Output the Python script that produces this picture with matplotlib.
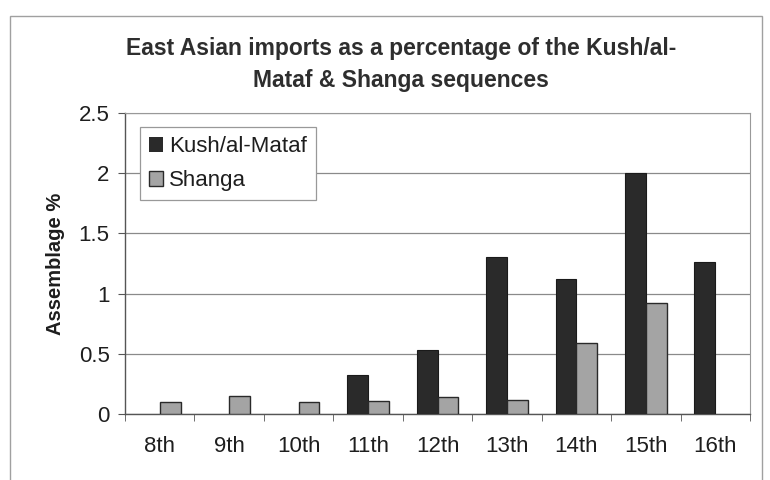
import numpy as np
import matplotlib
matplotlib.use('Agg')
import matplotlib.pyplot as plt
import matplotlib.patches as mpatches

plt.rcParams['font.family'] = ['Liberation Sans', 'DejaVu Sans']

# assemblage share of East Asian imports per century
centuries = ['8th', '9th', '10th', '11th', '12th', '13th', '14th', '15th', '16th']
kush = [0.0, 0.0, 0.0, 0.32, 0.53, 1.30, 1.12, 2.0, 1.26]
shanga = [0.10, 0.15, 0.10, 0.11, 0.14, 0.12, 0.59, 0.92, 0.0]
yticks = [0, 0.5, 1, 1.5, 2, 2.5]
yticklabels = ['0', '0.5', '1', '1.5', '2', '2.5']

colKush = '#2a2a2a'
colShanga = '#a4a4a4'
colGrid = '#8a8a8a'
colText = '#1e1e1e'
szTick = 16

fig = plt.figure(figsize=(7.7, 4.8), dpi=100)
fig.patch.set_facecolor('white')

# chart area frame
frame = mpatches.Rectangle((10/770, -0.02), 752/770, 1.02 - 16/480,
                           transform=fig.transFigure, fill=False,
                           ec='#a0a0a0', lw=1.0)
fig.patches.append(frame)

ax = fig.add_axes([125/770, 66/480, 625/770, 301/480])
x = np.arange(len(centuries))
w = 0.3
ax.bar(x - w/2, kush, w, color=colKush, ec='#1a1a1a',
       lw=[0.8 if v > 0 else 0 for v in kush],
       label='Kush/al-Mataf', zorder=3)
ax.bar(x + w/2, shanga, w, color=colShanga, ec='#2a2a2a',
       lw=[1.0 if v > 0 else 0 for v in shanga],
       label='Shanga', zorder=3)

ax.set_xlim(-0.5, len(centuries) - 0.5)
ax.set_ylim(0, 2.5)
ax.set_yticks(yticks)
ax.set_yticklabels(yticklabels, fontsize=szTick, color=colText)
ax.set_xticks(x)
ax.set_xticklabels(centuries, fontsize=szTick, color=colText)
ax.set_xticks(np.arange(len(centuries) + 1) - 0.5, minor=True)
ax.tick_params(axis='x', which='major', length=0, pad=16)
ax.tick_params(axis='x', which='minor', length=5, color='#555555', direction='out')
ax.tick_params(axis='y', which='major', length=5, color='#555555', pad=6)

ax.yaxis.grid(True, color=colGrid, lw=0.9, zorder=0)
for s in ['top', 'right']:
    ax.spines[s].set_color('#999999')
for s in ['left', 'bottom']:
    ax.spines[s].set_color('#555555')
    ax.spines[s].set_linewidth(1.0)

ax.set_ylabel('Assemblage %', fontsize=14.5, fontweight='bold', labelpad=10,
              color=colText)

leg = ax.legend(loc='upper left', bbox_to_anchor=(0.024, 0.953),
                borderaxespad=0, fancybox=False, fontsize=szTick,
                handlelength=0.65, handleheight=0.65, handletextpad=0.25,
                borderpad=0.4, labelspacing=0.6, framealpha=1)
leg.get_frame().set_edgecolor('#999999')
leg.get_frame().set_linewidth(0.9)
for t in leg.get_texts():
    t.set_color(colText)

fig.text(401/770, 1 - 65/480,
         'East Asian imports as a percentage of the Kush/al-\nMataf & Shanga sequences',
         ha='center', va='center', fontsize=16.5, fontweight='bold',
         color='#2e2e2e', linespacing=1.5)

fig.savefig('out.png', dpi=100)
